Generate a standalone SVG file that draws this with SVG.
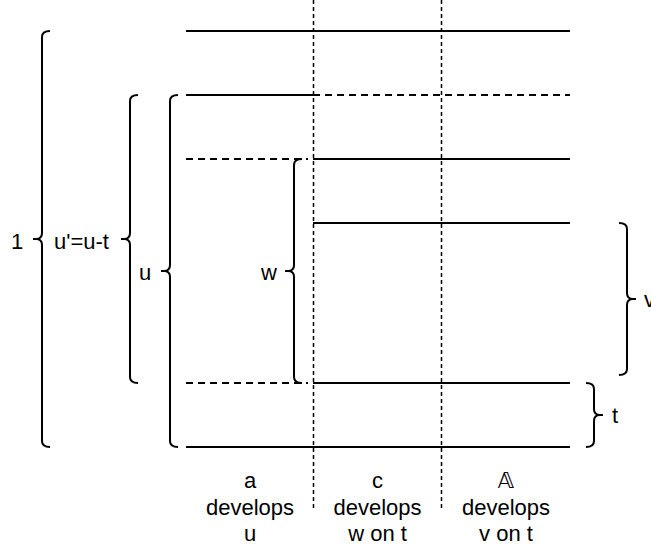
<svg xmlns="http://www.w3.org/2000/svg" width="651" height="550" viewBox="0 0 651 550">
  <style>
    .solid { stroke: #000; stroke-width: 2; fill: none; }
    .dash { stroke: #000; stroke-width: 2; fill: none; stroke-dasharray: 7 5; }
    .vdash { stroke: #000; stroke-width: 1.5; fill: none; stroke-dasharray: 4 3; }
    .brace { stroke: #000; stroke-width: 2; fill: none; stroke-linejoin: round; }
    text { font-family: "Liberation Sans", Arial, "DejaVu Sans", sans-serif; font-size: 22px; fill: #000; }
    .mid { text-anchor: middle; }
  </style>
  <rect x="0" y="0" width="651" height="550" fill="#fff"/>

  <g id="connectors">
    <!-- vertical dashed column separators -->
    <line class="vdash" x1="313.5" y1="0" x2="313.5" y2="511"/>
    <line class="vdash" x1="441.5" y1="0" x2="441.5" y2="511"/>
    <!-- horizontal levels -->
    <line class="solid" x1="186" y1="31" x2="570" y2="31"/>
    <line class="solid" x1="186" y1="95" x2="313" y2="95"/>
    <line class="dash" x1="313" y1="95" x2="570" y2="95"/>
    <line class="dash" x1="186" y1="159" x2="308" y2="159"/>
    <line class="solid" x1="313" y1="159" x2="570" y2="159"/>
    <line class="solid" x1="313" y1="223" x2="570" y2="223"/>
    <line class="dash" x1="186" y1="383" x2="308" y2="383"/>
    <line class="solid" x1="313" y1="383" x2="570" y2="383"/>
    <line class="solid" x1="186" y1="447" x2="570" y2="447"/>
  </g>

  <g id="brace-1">
    <path class="brace" d="M50 31 Q42 31 42 37 L42 233 Q42 239 36 239 L33 239 M36 239 Q42 239 42 245 L42 441 Q42 447 50 447"/>
    <text x="11" y="249">1</text>
  </g>

  <g id="brace-uprime">
    <path class="brace" d="M138 95 Q130 95 130 101 L130 233 Q130 239 124 239 L121 239 M124 239 Q130 239 130 245 L130 377 Q130 383 138 383"/>
    <text x="54" y="249">u'=u-t</text>
  </g>

  <g id="brace-u">
    <path class="brace" d="M178 95 Q170 95 170 101 L170 265 Q170 271 164 271 L161 271 M164 271 Q170 271 170 277 L170 441 Q170 447 178 447"/>
    <text x="139" y="280">u</text>
  </g>

  <g id="brace-w">
    <path class="brace" d="M302 159 Q294 159 294 165 L294 265 Q294 271 288 271 L285 271 M288 271 Q294 271 294 277 L294 377 Q294 383 302 383"/>
    <text x="261" y="280">w</text>
  </g>

  <g id="brace-v">
    <path class="brace" d="M619 223 Q627 223 627 229 L627 293 Q627 299 633 299 L636 299 M633 299 Q627 299 627 305 L627 369 Q627 375 619 375"/>
    <text x="644" y="307">v</text>
  </g>

  <g id="brace-t">
    <path class="brace" d="M586 383 Q594 383 594 389 L594 409 Q594 415 600 415 L603 415 M600 415 Q594 415 594 421 L594 441 Q594 447 586 447"/>
    <text x="612" y="423">t</text>
  </g>

  <g id="label-a">
    <text class="mid" x="250" y="488">a</text>
    <text class="mid" x="250" y="514.5">develops</text>
    <text class="mid" x="250" y="541">u</text>
  </g>

  <g id="label-c">
    <text class="mid" x="377.5" y="488">c</text>
    <text class="mid" x="377.5" y="514.5">develops</text>
    <text class="mid" x="377.5" y="541">w on t</text>
  </g>

  <g id="label-A">
    <text class="mid" x="506" y="488">𝔸</text>
    <text class="mid" x="506" y="514.5">develops</text>
    <text class="mid" x="506" y="541">v on t</text>
  </g>
</svg>
